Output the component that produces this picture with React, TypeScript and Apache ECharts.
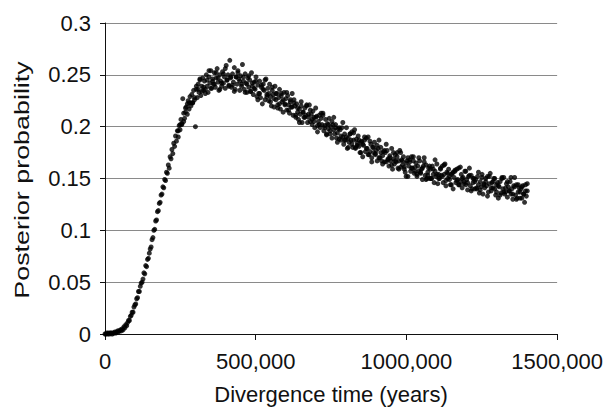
import React, { useEffect, useRef } from "react";
import * as echarts from "echarts";

// Main run: divergence times sampled every 3,000 years starting at 0
const MAIN_START = 0;
const MAIN_STEP = 3000;

// Posterior probability at each main-run divergence time
const posterior: number[] = [
  0.000, 0.000, 0.001, 0.000, 0.001, 0.000, 0.001, 0.001, 0.000, 0.001,
  0.001, 0.002, 0.001, 0.002, 0.003, 0.002, 0.003, 0.004, 0.003, 0.005,
  0.004, 0.007, 0.006, 0.009, 0.008, 0.011, 0.013, 0.013, 0.017, 0.018,
  0.021, 0.021, 0.026, 0.028, 0.029, 0.034, 0.035, 0.041, 0.041, 0.046,
  0.049, 0.050, 0.053, 0.059, 0.058, 0.066, 0.065, 0.072, 0.073, 0.078,
  0.082, 0.084, 0.091, 0.093, 0.100, 0.101, 0.109, 0.110, 0.118, 0.119,
  0.126, 0.127, 0.134, 0.135, 0.142, 0.141, 0.149, 0.148, 0.156, 0.155,
  0.163, 0.160, 0.171, 0.169, 0.178, 0.174, 0.184, 0.181, 0.191, 0.186,
  0.196, 0.190, 0.201, 0.197, 0.207, 0.202, 0.227, 0.213, 0.208, 0.218,
  0.219, 0.212, 0.225, 0.217, 0.229, 0.220, 0.231, 0.223, 0.235, 0.226,
  0.200, 0.236, 0.228, 0.241, 0.233, 0.245, 0.230, 0.239, 0.247, 0.235,
  0.244, 0.236, 0.250, 0.239, 0.233, 0.248, 0.242, 0.254, 0.237, 0.246,
  0.241, 0.252, 0.238, 0.247, 0.256, 0.243, 0.235, 0.250, 0.244, 0.239,
  0.253, 0.242, 0.248, 0.237, 0.259, 0.245, 0.250, 0.240, 0.264, 0.247,
  0.238, 0.251, 0.243, 0.257, 0.236, 0.248, 0.241, 0.254, 0.246, 0.235,
  0.249, 0.239, 0.260, 0.244, 0.236, 0.251, 0.242, 0.233, 0.247, 0.238,
  0.245, 0.234, 0.252, 0.239, 0.231, 0.243, 0.236, 0.248, 0.229, 0.240,
  0.232, 0.244, 0.228, 0.238, 0.222, 0.241, 0.235, 0.226, 0.246, 0.231,
  0.237, 0.225, 0.241, 0.229, 0.220, 0.235, 0.231, 0.219, 0.239, 0.226,
  0.232, 0.221, 0.228, 0.236, 0.217, 0.230, 0.224, 0.214, 0.233, 0.222,
  0.227, 0.216, 0.230, 0.221, 0.213, 0.226, 0.219, 0.232, 0.211, 0.223,
  0.220, 0.211, 0.222, 0.214, 0.207, 0.217, 0.212, 0.224, 0.204, 0.214,
  0.209, 0.218, 0.211, 0.220, 0.204, 0.212, 0.221, 0.205, 0.212, 0.207,
  0.215, 0.205, 0.199, 0.209, 0.210, 0.195, 0.205, 0.211, 0.199, 0.213,
  0.202, 0.213, 0.196, 0.199, 0.207, 0.193, 0.203, 0.198, 0.208, 0.196,
  0.200, 0.189, 0.202, 0.209, 0.193, 0.202, 0.189, 0.194, 0.198, 0.188,
  0.197, 0.187, 0.199, 0.190, 0.183, 0.193, 0.187, 0.199, 0.179, 0.189,
  0.185, 0.193, 0.187, 0.195, 0.180, 0.187, 0.197, 0.180, 0.188, 0.182,
  0.191, 0.181, 0.175, 0.185, 0.186, 0.171, 0.182, 0.187, 0.176, 0.189,
  0.179, 0.190, 0.173, 0.176, 0.183, 0.170, 0.180, 0.175, 0.185, 0.173,
  0.177, 0.167, 0.179, 0.187, 0.170, 0.180, 0.167, 0.172, 0.176, 0.166,
  0.175, 0.166, 0.177, 0.169, 0.162, 0.172, 0.167, 0.179, 0.159, 0.169,
  0.164, 0.173, 0.166, 0.175, 0.160, 0.167, 0.177, 0.161, 0.168, 0.163,
  0.171, 0.161, 0.156, 0.165, 0.167, 0.152, 0.162, 0.168, 0.157, 0.171,
  0.160, 0.171, 0.155, 0.157, 0.165, 0.152, 0.162, 0.157, 0.167, 0.155,
  0.159, 0.149, 0.162, 0.170, 0.153, 0.163, 0.150, 0.156, 0.160, 0.150,
  0.159, 0.150, 0.162, 0.154, 0.146, 0.157, 0.152, 0.164, 0.145, 0.154,
  0.150, 0.159, 0.153, 0.162, 0.146, 0.154, 0.164, 0.148, 0.156, 0.150,
  0.159, 0.149, 0.144, 0.154, 0.155, 0.140, 0.151, 0.157, 0.146, 0.159,
  0.149, 0.160, 0.144, 0.147, 0.154, 0.141, 0.151, 0.147, 0.157, 0.144,
  0.149, 0.139, 0.152, 0.160, 0.143, 0.153, 0.140, 0.146, 0.150, 0.140,
  0.149, 0.140, 0.152, 0.144, 0.136, 0.147, 0.142, 0.154, 0.135, 0.145,
  0.141, 0.150, 0.143, 0.152, 0.137, 0.145, 0.155, 0.138, 0.146, 0.141,
  0.150, 0.140, 0.134, 0.144, 0.146, 0.131, 0.142, 0.147, 0.136, 0.150,
  0.140, 0.151, 0.135, 0.137, 0.145, 0.132, 0.142, 0.138, 0.147, 0.135,
  0.140, 0.130, 0.143, 0.151, 0.134, 0.144, 0.131, 0.137, 0.141, 0.131,
  0.140, 0.131, 0.143, 0.135, 0.127, 0.138, 0.133, 0.145,
];

// Extra run in the noisy band: times every 6,000 years starting at 243,000
const EXTRA_START = 243000;
const EXTRA_STEP = 6000;

const posteriorExtra: number[] = [
  0.196, 0.202, 0.203, 0.205, 0.214, 0.222, 0.223, 0.223, 0.223, 0.228,
  0.239, 0.236, 0.246, 0.234, 0.238, 0.232, 0.245, 0.254, 0.237, 0.244,
  0.241, 0.252, 0.247, 0.236, 0.242, 0.251, 0.256, 0.245, 0.239, 0.248,
  0.240, 0.234, 0.248, 0.252, 0.244, 0.241, 0.248, 0.233, 0.241, 0.249,
  0.234, 0.242, 0.237, 0.244, 0.226, 0.232, 0.240, 0.236, 0.245, 0.229,
  0.232, 0.224, 0.238, 0.227, 0.232, 0.218, 0.222, 0.232, 0.226, 0.221,
  0.233, 0.216, 0.224, 0.219, 0.226, 0.209, 0.218, 0.204, 0.220, 0.214,
  0.209, 0.221, 0.209, 0.216, 0.202, 0.209, 0.218, 0.201, 0.202, 0.208,
  0.211, 0.201, 0.192, 0.202, 0.193, 0.205, 0.197, 0.199, 0.185, 0.199,
  0.191, 0.204, 0.187, 0.190, 0.180, 0.193, 0.183, 0.194, 0.179, 0.184,
  0.187, 0.175, 0.183, 0.190, 0.179, 0.173, 0.186, 0.166, 0.180, 0.174,
  0.182, 0.170, 0.175, 0.164, 0.177, 0.183, 0.168, 0.170, 0.163, 0.175,
  0.167, 0.171, 0.159, 0.175, 0.167, 0.159, 0.152, 0.170, 0.166, 0.160,
  0.167, 0.161, 0.154, 0.170, 0.156, 0.160, 0.166, 0.149, 0.153, 0.162,
  0.150, 0.159, 0.168, 0.154, 0.150, 0.160, 0.152, 0.163, 0.143, 0.155,
  0.152, 0.144, 0.156, 0.158, 0.148, 0.144, 0.161, 0.150, 0.145, 0.157,
  0.146, 0.153, 0.138, 0.150, 0.147, 0.141, 0.156, 0.139, 0.151, 0.144,
  0.147, 0.133, 0.152, 0.141, 0.147, 0.150, 0.137, 0.143, 0.134, 0.151,
  0.137, 0.141, 0.147, 0.138, 0.151, 0.135, 0.142, 0.130, 0.144, 0.137,
  0.142, 0.135, 0.144, 0.138,
];

const xTickLabels = ["0", "500,000", "1000,000", "1500,000"];
const yTickLabels = ["0", "0.05", "0.1", "0.15", "0.2", "0.25", "0.3"];
const xTitle = "Divergence time (years)";
const yTitle = "Posterior probability";

const FONT = "Arial, 'Liberation Sans', Helvetica, sans-serif";

export default function App() {
  const ref = useRef<HTMLDivElement>(null);

  useEffect(() => {
    if (!ref.current) return;
    const chart = echarts.init(ref.current, undefined, { renderer: "svg" });
    const points = posterior
      .map((p, i) => [MAIN_START + i * MAIN_STEP, p])
      .concat(posteriorExtra.map((p, i) => [EXTRA_START + i * EXTRA_STEP, p]));

    chart.setOption({
      animation: false,
      backgroundColor: "#ffffff",
      grid: { left: 105, top: 23, width: 457, height: 311 },
      xAxis: {
        type: "value",
        min: 0,
        max: 1500000,
        interval: 500000,
        axisLine: { show: true, lineStyle: { color: "#111111", width: 1 } },
        axisTick: { show: true, length: 6, lineStyle: { color: "#111111" } },
        splitLine: { show: false },
        axisLabel: {
          margin: 16,
          fontSize: 22,
          fontFamily: FONT,
          color: "#111111",
          formatter: (_v: number, i: number) => xTickLabels[i] ?? "",
        },
      },
      yAxis: {
        type: "value",
        min: 0,
        max: 0.3,
        interval: 0.05,
        axisLine: { show: true, lineStyle: { color: "#111111", width: 1 } },
        axisTick: { show: true, length: 5, lineStyle: { color: "#111111" } },
        splitLine: { show: true, lineStyle: { color: "#8a8a8a", width: 1.2 } },
        axisLabel: {
          margin: 14,
          fontSize: 22,
          fontFamily: FONT,
          color: "#111111",
          formatter: (_v: number, i: number) => yTickLabels[i] ?? "",
        },
      },
      graphic: [
        {
          type: "text",
          x: 331,
          y: 394,
          style: {
            text: xTitle,
            fontSize: 22,
            fontFamily: FONT,
            fill: "#111111",
            align: "center",
            verticalAlign: "middle",
          },
        },
        {
          type: "text",
          x: 22,
          y: 180,
          rotation: Math.PI / 2,
          scaleX: 1.28,
          style: {
            text: yTitle,
            fontSize: 21,
            fontFamily: FONT,
            fill: "#111111",
            align: "center",
            verticalAlign: "middle",
          },
        },
      ],
      series: [
        {
          type: "scatter",
          data: points,
          symbol: "circle",
          symbolSize: 5,
          itemStyle: { color: "#000000" },
        },
      ],
    });

    return () => chart.dispose();
  }, []);

  return (
    <div
      ref={ref}
      style={{ position: "fixed", left: 0, top: 0, width: 606, height: 408 }}
    />
  );
}
